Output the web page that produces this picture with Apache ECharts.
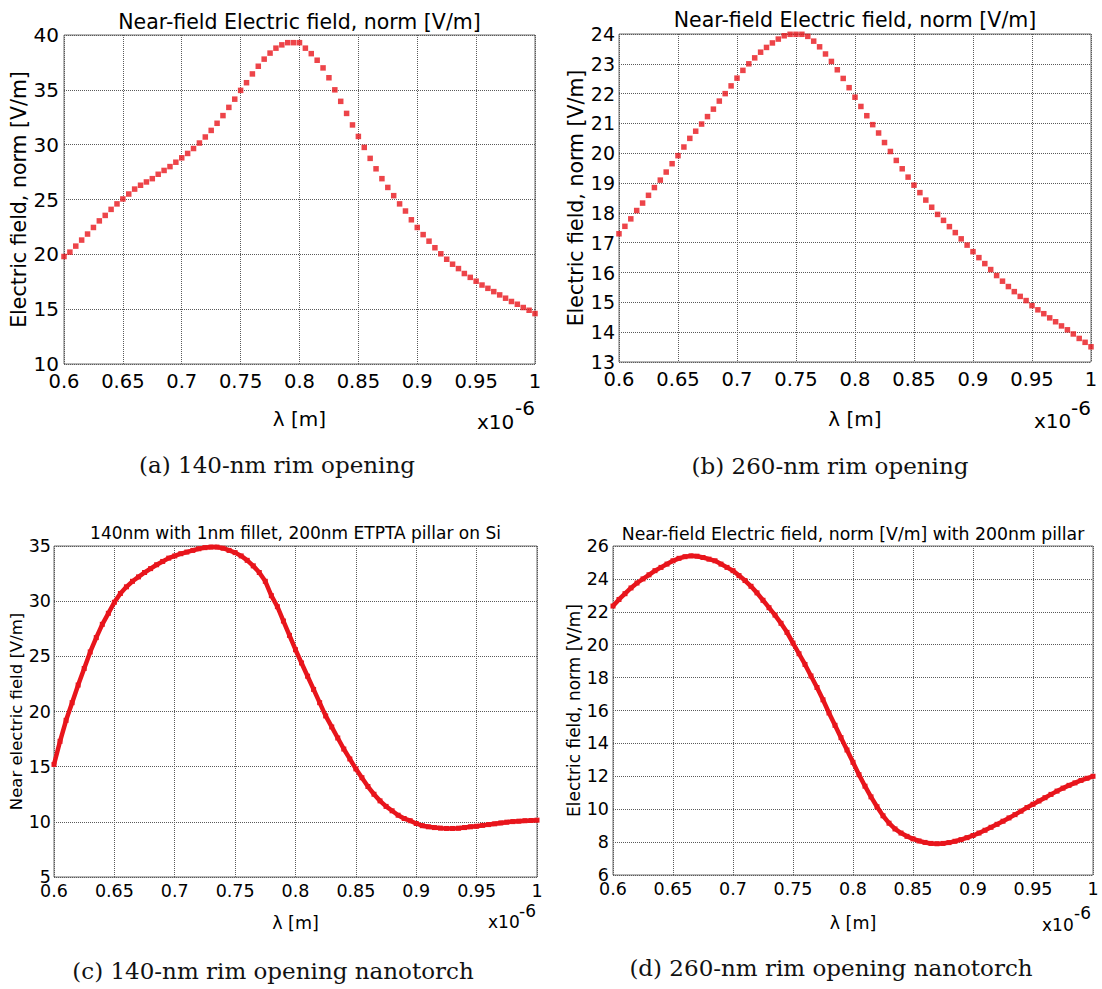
<!DOCTYPE html>
<html>
<head>
<meta charset="utf-8">
<script src="https://cdn.jsdelivr.net/npm/echarts@6/dist/echarts.min.js"></script>
<style>
html,body{margin:0;padding:0;background:#fff;}
#c{width:1102px;height:989px;}
</style>
</head>
<body>
<div id="c"></div>
<script>
// wavelength samples (x 1e-6 m)
const lambda = [0.6,0.605,0.61,0.615,0.62,0.625,0.63,0.635,0.64,0.645,
0.65,0.655,0.66,0.665,0.67,0.675,0.68,0.685,0.69,0.695,
0.7,0.705,0.71,0.715,0.72,0.725,0.73,0.735,0.74,0.745,
0.75,0.755,0.76,0.765,0.77,0.775,0.78,0.785,0.79,0.795,
0.8,0.805,0.81,0.815,0.82,0.825,0.83,0.835,0.84,0.845,
0.85,0.855,0.86,0.865,0.87,0.875,0.88,0.885,0.89,0.895,
0.9,0.905,0.91,0.915,0.92,0.925,0.93,0.935,0.94,0.945,
0.95,0.955,0.96,0.965,0.97,0.975,0.98,0.985,0.99,0.995,1];

// (a) 140-nm rim opening
const fieldA = [19.8,20.2,20.75,21.3,21.85,22.45,23.05,23.55,24.1,24.6,
25.05,25.5,25.95,26.3,26.6,26.9,27.3,27.65,28.0,28.4,
28.8,29.2,29.65,30.15,30.7,31.3,31.95,32.65,33.4,34.15,
34.95,35.65,36.45,37.15,37.8,38.35,38.8,39.1,39.3,39.3,
39.3,38.8,38.3,37.7,37.0,36.1,35.0,33.95,32.85,31.8,
30.75,29.75,28.75,27.8,26.9,26.1,25.35,24.6,23.95,23.15,
22.45,21.8,21.2,20.6,20.05,19.55,19.1,18.7,18.25,17.9,
17.55,17.2,16.9,16.6,16.3,16.0,15.7,15.45,15.15,14.9,14.6];

// (b) 260-nm rim opening
const fieldB = [17.3,17.55,17.8,18.08,18.33,18.59,18.85,19.1,19.37,19.65,
19.92,20.21,20.5,20.74,20.98,21.23,21.48,21.75,22.0,22.26,
22.52,22.78,23.0,23.2,23.39,23.55,23.7,23.83,23.94,23.99,
23.99,23.99,23.92,23.76,23.57,23.33,23.08,22.8,22.51,22.2,
21.88,21.57,21.26,20.96,20.68,20.36,20.06,19.76,19.48,19.2,
18.93,18.68,18.43,18.19,17.95,17.75,17.54,17.34,17.13,16.92,
16.7,16.5,16.3,16.1,15.9,15.71,15.53,15.36,15.2,15.06,
14.89,14.75,14.62,14.48,14.35,14.21,14.08,13.94,13.79,13.66,13.51];

// (c) 140-nm rim opening nanotorch
const fieldC = [15.2,17.3,19.2,20.8,22.4,23.9,25.4,26.7,27.9,28.9,
29.9,30.7,31.3,31.8,32.2,32.6,32.95,33.3,33.6,33.9,
34.1,34.3,34.45,34.6,34.75,34.85,34.9,34.9,34.8,34.6,
34.4,34.1,33.7,33.2,32.6,31.8,30.5,29.5,28.2,26.9,
25.6,24.4,23.2,22.0,20.8,19.6,18.6,17.6,16.6,15.7,
14.8,14.0,13.2,12.5,11.9,11.4,11.0,10.6,10.3,10.1,
9.85,9.65,9.55,9.48,9.43,9.4,9.4,9.42,9.48,9.55,
9.6,9.68,9.75,9.82,9.9,9.97,10.02,10.06,10.1,10.12,10.15];

// (d) 260-nm rim opening nanotorch
const fieldD = [22.35,22.75,23.1,23.45,23.75,24.0,24.25,24.5,24.7,24.9,
25.1,25.25,25.35,25.4,25.38,25.3,25.2,25.1,24.9,24.7,
24.5,24.2,23.9,23.55,23.15,22.7,22.25,21.8,21.3,20.75,
20.1,19.45,18.8,18.1,17.4,16.65,15.85,15.1,14.35,13.6,
12.85,12.1,11.4,10.75,10.15,9.6,9.15,8.8,8.55,8.35,
8.2,8.07,7.98,7.92,7.9,7.92,7.97,8.05,8.15,8.27,
8.4,8.55,8.72,8.9,9.08,9.27,9.47,9.67,9.88,10.1,
10.3,10.5,10.7,10.9,11.1,11.28,11.45,11.6,11.75,11.88,12.0];

// texts
const plotTitles = ['Near-field Electric field, norm [V/m]','Near-field Electric field, norm [V/m]',
  '140nm with 1nm fillet, 200nm ETPTA pillar on Si','Near-field Electric field, norm [V/m] with 200nm pillar'];
const yNames = ['Electric field, norm [V/m]','Electric field, norm [V/m]','Near electric field [V/m]','Electric field, norm [V/m]'];
const xName = 'λ [m]';
const captions = ['(a) 140-nm rim opening','(b) 260-nm rim opening','(c) 140-nm rim opening nanotorch','(d) 260-nm rim opening nanotorch'];
const yRanges = [[10,40,5],[13,24,1],[5,35,5],[6,26,2]];

const FONT = 'DejaVu Sans';
const RED = '#e8151c';
const INK = '#000';

// layout
const grids = [
  {left:64, top:35, width:471, height:329},
  {left:619, top:34, width:472, height:328},
  {left:54, top:546, width:483, height:331},
  {left:613, top:546, width:480, height:329}
];
const sty = [
  {tick:19.5, ytick:20, title:20.5, yname:20.5, xname:20, yGap:28, xGap:45, tTop:11, xm:7, ym:5},
  {tick:19.5, ytick:19, title:20.5, yname:20.5, xname:20, yGap:31, xGap:47, tTop:9, xm:7, ym:4},
  {tick:17.5, ytick:17.5, title:17, yname:16.5, xname:17.5, yGap:26, xGap:37, tTop:524, xm:5, ym:3},
  {tick:17.5, ytick:17.5, title:17.3, yname:17, xname:17.5, yGap:26, xGap:39, tTop:525, xm:5, ym:4}
];
const expPos = [
  {x:477, y:422, sx:515, sy:408, fs:20},
  {x:1034, y:421, sx:1071, sy:408, fs:20},
  {x:488, y:922, sx:519, sy:911, fs:17},
  {x:1042, y:925, sx:1074, sy:913, fs:17}
];
const capPos = [{x:277,y:465},{x:830,y:466},{x:273,y:971},{x:831,y:968}];

const fmt = v => String(parseFloat(v.toFixed(3)));

const option = {
  animation:false,
  backgroundColor:'#fff',
  grid: grids.map(g => Object.assign({show:true, borderColor:'#6e6e6e', borderWidth:1, backgroundColor:'#fff'}, g)),
  title: [],
  xAxis: grids.map((g,i) => ({
    type:'value', gridIndex:i, min:0.6, max:1, interval:0.05,
    name:xName, nameLocation:'middle', nameGap:sty[i].xGap,
    nameTextStyle:{fontFamily:FONT, fontSize:sty[i].xname, color:INK},
    axisLine:{show:false}, axisTick:{show:false},
    axisLabel:{fontFamily:FONT, fontSize:sty[i].tick, color:INK, margin:sty[i].xm, formatter:fmt, showMinLabel:true, showMaxLabel:true},
    splitLine:{show:true, lineStyle:{type:'dotted', color:'#5a5a5a', width:1}}
  })),
  yAxis: grids.map((g,i) => ({
    type:'value', gridIndex:i, min:yRanges[i][0], max:yRanges[i][1], interval:yRanges[i][2],
    name:yNames[i], nameLocation:'middle', nameGap:sty[i].yGap,
    nameTextStyle:{fontFamily:FONT, fontSize:sty[i].yname, color:INK},
    axisLine:{show:false}, axisTick:{show:false},
    axisLabel:{fontFamily:FONT, fontSize:sty[i].ytick, color:INK, margin:sty[i].ym, showMinLabel:true, showMaxLabel:true},
    splitLine:{show:true, lineStyle:{type:'dotted', color:'#5a5a5a', width:1}}
  })),
  series: [
    {type:'scatter', xAxisIndex:0, yAxisIndex:0, symbol:'rect', symbolSize:5.5,
     itemStyle:{color:RED}, data: lambda.map((x,i)=>[x, fieldA[i]])},
    {type:'scatter', xAxisIndex:1, yAxisIndex:1, symbol:'rect', symbolSize:5.5,
     itemStyle:{color:RED}, data: lambda.map((x,i)=>[x, fieldB[i]])},
    {type:'line', xAxisIndex:2, yAxisIndex:2, symbol:'rect', symbolSize:5, showSymbol:true,
     itemStyle:{color:RED}, lineStyle:{color:RED, width:4.5}, data: lambda.map((x,i)=>[x, fieldC[i]])},
    {type:'line', xAxisIndex:3, yAxisIndex:3, symbol:'rect', symbolSize:5, showSymbol:true,
     itemStyle:{color:RED}, lineStyle:{color:RED, width:4.5}, data: lambda.map((x,i)=>[x, fieldD[i]])}
  ]
};

grids.forEach((g,i) => {
  option.title.push({
    text: plotTitles[i], left: g.left + g.width/2, top: sty[i].tTop, textAlign:'center', padding:0,
    textStyle:{fontFamily:FONT, fontSize:sty[i].title, fontWeight:'normal', color:INK}
  });
  const e = expPos[i];
  option.title.push({
    text:'x10', left:e.x, top:e.y - e.fs/2, padding:0,
    textStyle:{fontFamily:FONT, fontSize:e.fs, fontWeight:'normal', color:INK}
  });
  option.title.push({
    text:'-6', left:e.sx, top:e.sy - e.fs/2, padding:0,
    textStyle:{fontFamily:FONT, fontSize:e.fs, fontWeight:'normal', color:INK}
  });
  const c = capPos[i];
  option.title.push({
    text: captions[i], left:c.x, top:c.y - 12, textAlign:'center', padding:0,
    textStyle:{fontFamily:'DejaVu Serif', fontSize:23, fontWeight:'normal', color:'#111'}
  });
});

const chart = echarts.init(document.getElementById('c'), null, {renderer:'svg', width:1102, height:989});
chart.setOption(option);
</script>
</body>
</html>
